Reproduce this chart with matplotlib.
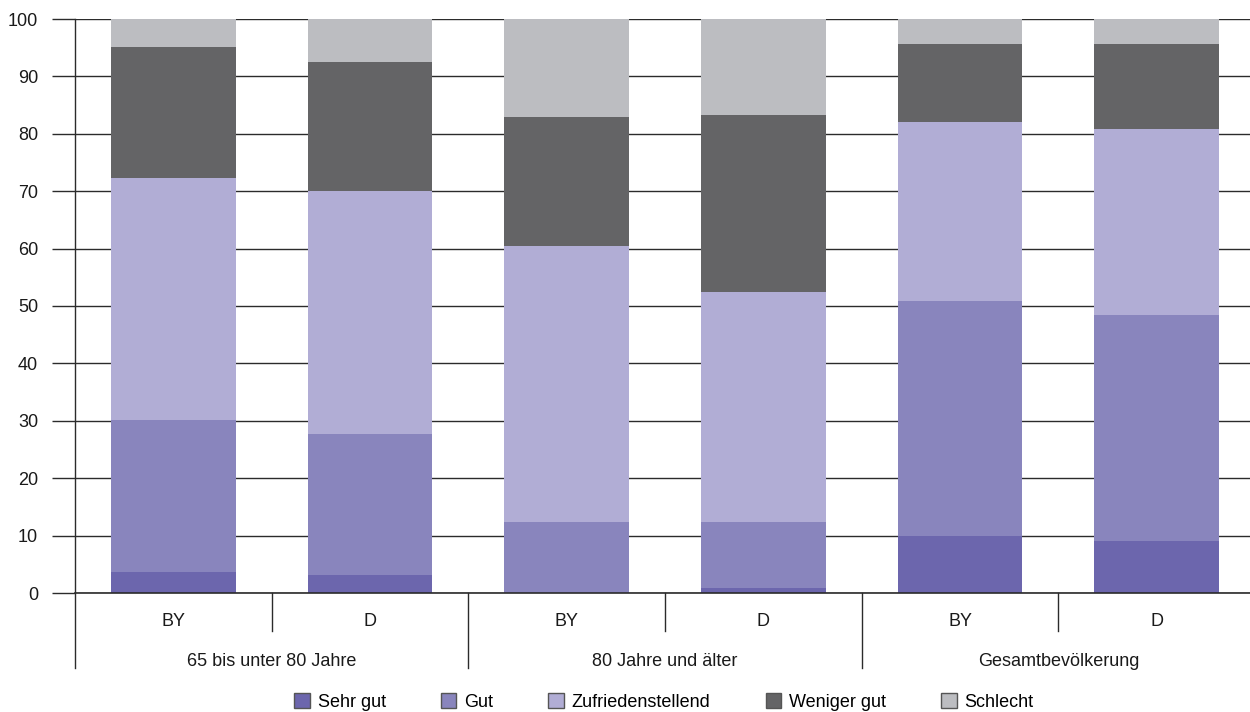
import matplotlib.pyplot as plt
import matplotlib.transforms as mtransforms
from matplotlib.patches import Patch
import numpy as np

plt.rcParams['font.family'] = ['Liberation Sans', 'DejaVu Sans']

# data
groups = ['65 bis unter 80 Jahre', '80 Jahre und älter', 'Gesamtbevölkerung']
regions = ['BY', 'D', 'BY', 'D', 'BY', 'D']
categories = ['Sehr gut', 'Gut', 'Zufriedenstellend', 'Weniger gut', 'Schlecht']
sehr_gut = [3.6, 3.1, 0.0, 0.9, 9.9, 9.1]
gut = [26.5, 24.6, 12.4, 11.5, 41.0, 39.3]
zufrieden = [42.2, 42.3, 48.1, 40.0, 31.2, 32.4]
weniger_gut = [22.8, 22.5, 22.4, 30.8, 13.5, 14.8]
schlecht = [4.9, 7.5, 17.1, 16.8, 4.4, 4.4]

series = [sehr_gut, gut, zufrieden, weniger_gut, schlecht]
colors = ['#6c66ad', '#8985bd', '#b1add5', '#646466', '#bcbdc1']

W, H = 1250, 712
fig = plt.figure(figsize=(W / 100, H / 100), dpi=100)
ax = fig.add_axes([75 / W, (H - 593) / H, 1180 / W, 574 / H])

x = np.arange(len(regions))
bottom = np.zeros(len(regions))
for vals, col, lab in zip(series, colors, categories):
    ax.bar(x, vals, width=0.635, bottom=bottom, color=col, label=lab, zorder=3, linewidth=0)
    bottom += np.array(vals)

ax.set_xlim(-0.5, 5.5)
ax.set_ylim(0, 100)
ax.set_yticks(np.arange(0, 101, 10))
ax.set_xticks([])
for s in ax.spines.values():
    s.set_visible(False)

line_col = '#2b2b2b'
ax.yaxis.grid(True, color=line_col, linewidth=1.0, zorder=1)
ax.tick_params(axis='y', length=16.5, width=1.0, color=line_col, pad=10,
               labelsize=13, labelcolor='#1a1a1a')
# extend gridlines to right edge
for yv in np.arange(0, 101, 10):
    ax.plot([5.5, 5.6], [yv, yv], color=line_col, lw=1.0, clip_on=False)
# baseline drawn over the bars
ax.plot([-0.5, 5.6], [0, 0], color=line_col, lw=1.2, clip_on=False, zorder=4)

trans = mtransforms.blended_transform_factory(ax.transData, ax.transAxes)
# left axis line down to below group labels
ax.plot([-0.5, -0.5], [1.0, -75 / 574], color=line_col, lw=1.0, transform=trans, clip_on=False)
# group separators
for xs in [1.5, 3.5]:
    ax.plot([xs, xs], [0, -75 / 574], color=line_col, lw=1.0, transform=trans, clip_on=False)
# region separators
for xs in [0.5, 2.5, 4.5]:
    ax.plot([xs, xs], [0, -38 / 574], color=line_col, lw=1.0, transform=trans, clip_on=False)

for xi, r in zip(x, regions):
    ax.text(xi, -29 / 574, r, transform=trans, ha='center', va='center', fontsize=13, color='#1a1a1a')
for gi, g in enumerate(groups):
    ax.text(2 * gi + 0.5, -68 / 574, g, transform=trans, ha='center', va='center', fontsize=13, color='#1a1a1a')

handles = [Patch(facecolor=c, edgecolor='#555555', linewidth=1.0, label=l) for c, l in zip(colors, categories)]
fig.legend(handles=handles, loc='center', bbox_to_anchor=(664 / W, 10 / H), ncol=5, frameon=False,
           fontsize=13, handlelength=0.85, handleheight=0.85, handletextpad=0.45,
           columnspacing=3.05, borderaxespad=0, borderpad=0)

fig.savefig('out.png', dpi=100)
